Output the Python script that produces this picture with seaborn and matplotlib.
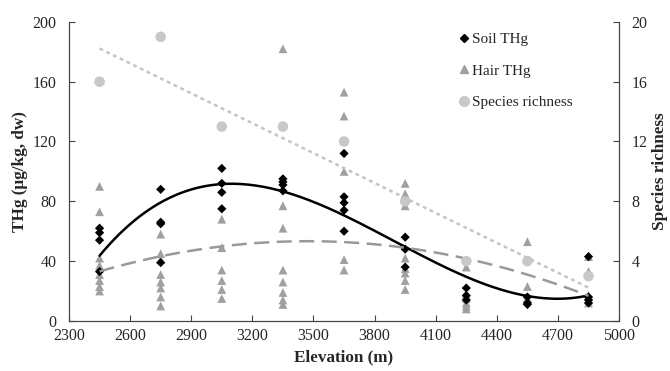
import numpy as np
import pandas as pd
import matplotlib
matplotlib.use('Agg')
import matplotlib.pyplot as plt
import seaborn as sns
from matplotlib.lines import Line2D

elevations = [2450, 2750, 3050, 3350, 3650, 3950, 4250, 4550, 4850]

soil_thg = [
    [62, 59, 54, 33],
    [88, 66, 65, 39],
    [102, 92, 86, 75],
    [95, 93, 91, 87],
    [112, 83, 79, 74, 60],
    [56, 48, 36],
    [22, 17, 14],
    [16, 12, 11],
    [43, 16, 14, 12],
]

hair_thg = [
    [90, 73, 42, 37, 31, 27, 23, 20],
    [58, 45, 41, 31, 26, 22, 16, 10],
    [68, 49, 34, 27, 21, 15],
    [182, 77, 62, 34, 26, 19, 14, 11],
    [153, 137, 100, 41, 34],
    [92, 85, 77, 42, 35, 32, 27, 21],
    [36, 18, 15, 12, 10, 8],
    [53, 23, 15],
    [43, 33, 17, 14, 12],
]

species_richness = [16, 19, 13, 13, 12, 8, 4, 4, 3]

soil_df = pd.DataFrame([(e, v) for e, vals in zip(elevations, soil_thg) for v in vals],
                       columns=['Elevation', 'THg'])
hair_df = pd.DataFrame([(e, v) for e, vals in zip(elevations, hair_thg) for v in vals],
                       columns=['Elevation', 'THg'])
rich_df = pd.DataFrame({'Elevation': elevations, 'Richness': species_richness})

sns.set_style('ticks')
plt.rcParams['font.family'] = ['Liberation Serif', 'DejaVu Serif']

fig = plt.figure(figsize=(6.7, 3.71), dpi=100)
ax = fig.add_axes([0.103, 0.135, 0.821, 0.806])
ax2 = ax.twinx()

soil_c = 'black'
hair_c = '#a0a0a0'
rich_c = '#c8c8c8'

sns.scatterplot(data=hair_df, x='Elevation', y='THg', ax=ax, marker='^', s=40,
                color=hair_c, edgecolor='none', zorder=2)
sns.scatterplot(data=soil_df, x='Elevation', y='THg', ax=ax, marker='D', s=22,
                color=soil_c, edgecolor='none', zorder=3)
sns.scatterplot(data=rich_df, x='Elevation', y='Richness', ax=ax2, marker='o', s=58,
                color=rich_c, edgecolor='none', zorder=1)

# trend lines fitted to the points
xs = np.linspace(2450, 4850, 200)
soil_fit = np.polyfit(soil_df['Elevation'], soil_df['THg'], 3)
hair_fit = np.polyfit(hair_df['Elevation'], hair_df['THg'], 2)
rich_fit = np.polyfit(rich_df['Elevation'], rich_df['Richness'], 1)

sns.lineplot(x=xs, y=np.polyval(soil_fit, xs), ax=ax, color='black', lw=1.8, zorder=4)
sns.lineplot(x=xs, y=np.polyval(hair_fit, xs), ax=ax, color='#999999', lw=1.8,
             linestyle=(0, (6, 3)), zorder=4)
sns.lineplot(x=xs, y=np.polyval(rich_fit, xs), ax=ax2, color='#c4c4c4', lw=1.8,
             linestyle=(0, (1.5, 1.5)), zorder=4)

ax.set_xlim(2300, 5000)
ax.set_ylim(0, 200)
ax2.set_ylim(0, 20)
ax.set_xticks(range(2300, 5001, 300))
ax.set_yticks(range(0, 201, 40))
ax2.set_yticks(range(0, 21, 4))

ax.set_xlabel('Elevation (m)', fontsize=12.3, fontweight='bold', labelpad=4)
ax.set_ylabel('THg (μg/kg, dw)', fontsize=12.3, fontweight='bold', labelpad=3)
ax2.set_ylabel('Species richness', fontsize=12.3, fontweight='bold', labelpad=3)

for a in (ax, ax2):
    a.tick_params(direction='in', labelsize=11.5, length=4, color='#444444')
    for s in a.spines.values():
        s.set_color('#444444')
    a.spines['top'].set_visible(False)
ax.tick_params(axis='y', pad=9)
ax.tick_params(axis='x', pad=5)
ax2.tick_params(axis='y', pad=9)

handles = [
    Line2D([], [], marker='D', color=soil_c, linestyle='none', markersize=4.5),
    Line2D([], [], marker='^', color=hair_c, linestyle='none', markersize=6),
    Line2D([], [], marker='o', color=rich_c, linestyle='none', markersize=7),
]
ax2.legend(handles, ['Soil THg', 'Hair THg', 'Species richness'], loc='upper left',
           bbox_to_anchor=(0.686, 0.912), bbox_transform=fig.transFigure,
           frameon=False, fontsize=11, borderpad=0, borderaxespad=0,
           handlelength=0.6, handletextpad=0.2, labelspacing=1.15)

fig.savefig('out.png', dpi=100)
